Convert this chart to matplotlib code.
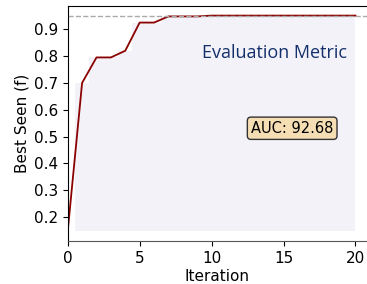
import numpy as np
import matplotlib
matplotlib.use("Agg")
import matplotlib.pyplot as plt

iterations = list(range(21))
best_seen = [0.147, 0.700, 0.795, 0.795, 0.820, 0.925, 0.925, 0.948, 0.948, 0.948,
             0.951, 0.951, 0.951, 0.951, 0.951, 0.951, 0.951, 0.951, 0.951, 0.951, 0.951]
optimum = 0.951
auc_label = "AUC: 92.68"
title_text = "Evaluation Metric"


def main():
    x = np.array(iterations)
    y = np.array(best_seen)

    fig = plt.figure(figsize=(3.67, 2.84), dpi=100)
    ax = fig.add_axes([0.1845, 0.150, 0.8155, 0.830])

    ax.fill_between(x, y, y.min(), step="mid", color="#f2f2f8", linewidth=0)
    ax.plot(x, y, color="#8b0000", linewidth=1.3)
    ax.axhline(optimum, color="#aaaaaa", linestyle="--", linewidth=1.0)

    ax.set_xlim(0, 20.8)
    ax.set_ylim(0.109, 0.988)
    ax.set_xticks([0, 5, 10, 15, 20])
    ax.set_yticks([0.2, 0.3, 0.4, 0.5, 0.6, 0.7, 0.8, 0.9])
    ax.tick_params(labelsize=11)
    ax.spines["right"].set_visible(False)
    ax.spines["bottom"].set_color("#555555")
    ax.set_xlabel("Iteration", fontsize=11, labelpad=2)
    ax.set_ylabel("Best Seen (f)", fontsize=11, labelpad=3)

    ax.text(0.69, 0.80, title_text, transform=ax.transAxes, ha="center", va="center",
            fontsize=13, color="#14306b", family="Open Sans")
    ax.text(0.75, 0.48, auc_label, transform=ax.transAxes, ha="center", va="center",
            fontsize=10.5,
            bbox=dict(boxstyle="round,pad=0.25", facecolor="#f5deb3", edgecolor="#333333"))

    fig.savefig("out.png", dpi=100)
    plt.close(fig)


if __name__ == "__main__":
    main()
